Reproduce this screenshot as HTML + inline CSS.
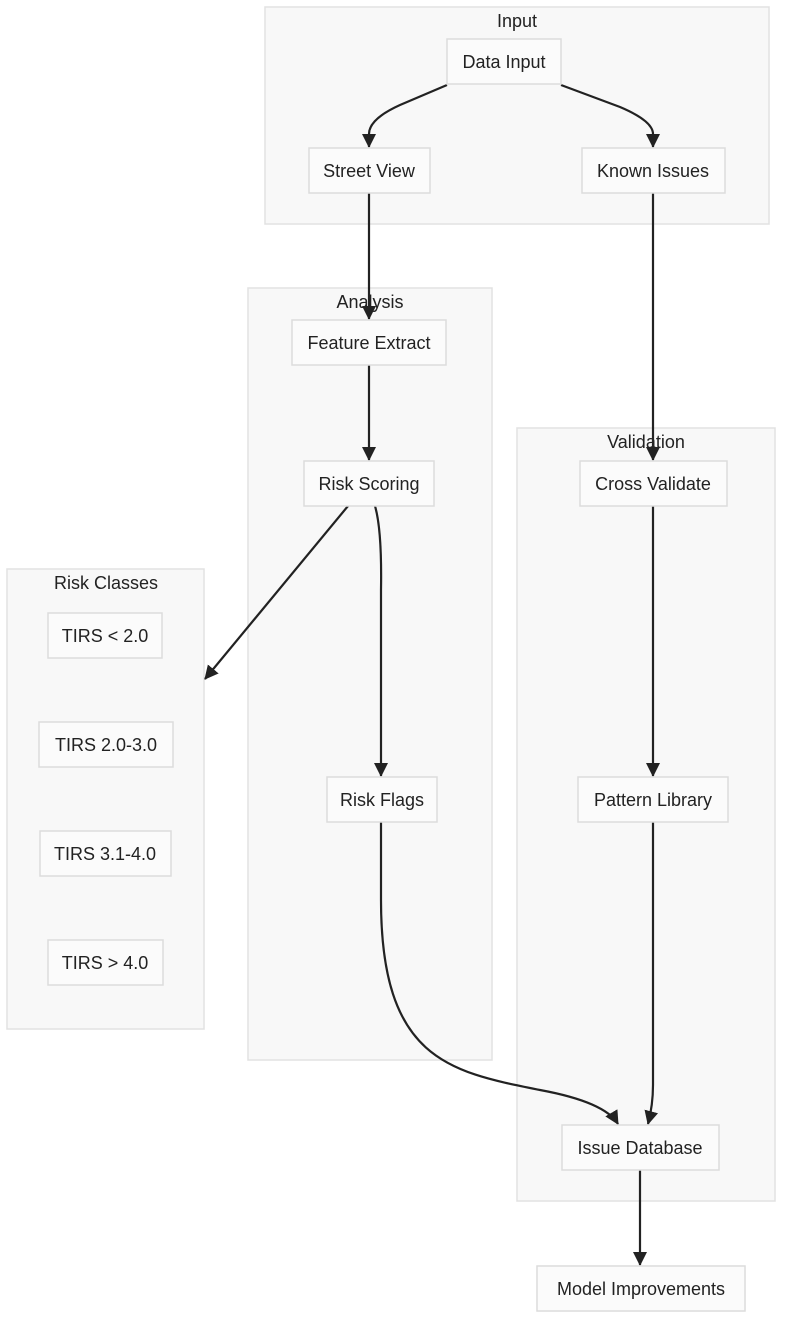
<!DOCTYPE html>
<html><head><meta charset="utf-8"><style>
html,body{margin:0;padding:0;background:#fff;}
svg text{font-family:"Liberation Sans",sans-serif;font-size:18px;fill:#222;text-anchor:middle;}
</style></head><body>
<svg width="810" height="1320" viewBox="0 0 810 1320" xmlns="http://www.w3.org/2000/svg">
<defs><marker id="a" markerWidth="14" markerHeight="14" refX="13" refY="7" orient="auto" markerUnits="userSpaceOnUse"><path d="M0,0 L14,7 L0,14 Z" fill="#222"/></marker></defs>
<g fill="#f8f8f8" stroke="#e2e2e2" stroke-width="1.5">
<rect x="265" y="7" width="504" height="217"/>
<rect x="248" y="288" width="244" height="772"/>
<rect x="517" y="428" width="258" height="773"/>
<rect x="7" y="569" width="197" height="460"/>
</g>
<text x="517" y="27">Input</text>
<text x="370" y="308">Analysis</text>
<text x="646" y="448">Validation</text>
<text x="106" y="589">Risk Classes</text>
<g fill="none" stroke="#222" stroke-width="2.2">
<path d="M447,85 L400,105 Q369,119 369,134 L369,147" marker-end="url(#a)"/>
<path d="M561,85 L620,107 Q653,121 653,134 L653,147" marker-end="url(#a)"/>
<path d="M369,193 L369,319" marker-end="url(#a)"/>
<path d="M653,193 L653,460" marker-end="url(#a)"/>
<path d="M369,365 L369,460" marker-end="url(#a)"/>
<path d="M653,506 L653,776" marker-end="url(#a)"/>
<path d="M348,506 L205,679" marker-end="url(#a)"/>
<path d="M375,506 Q382,530 381,590 L381,776" marker-end="url(#a)"/>
<path d="M381,822 L381,900 C381,1060 450,1072 540,1090 Q605,1102 618,1124" marker-end="url(#a)"/>
<path d="M653,822 L653,1085 Q653,1105 648,1124" marker-end="url(#a)"/>
<path d="M640,1170 L640,1265" marker-end="url(#a)"/>
</g>
<g fill="#fbfbfb" stroke="#dcdcdc" stroke-width="1.5">
<rect x="447" y="39" width="114" height="45"/>
<rect x="309" y="148" width="121" height="45"/>
<rect x="582" y="148" width="143" height="45"/>
<rect x="292" y="320" width="154" height="45"/>
<rect x="304" y="461" width="130" height="45"/>
<rect x="327" y="777" width="110" height="45"/>
<rect x="580" y="461" width="147" height="45"/>
<rect x="578" y="777" width="150" height="45"/>
<rect x="562" y="1125" width="157" height="45"/>
<rect x="48" y="613" width="114" height="45"/>
<rect x="39" y="722" width="134" height="45"/>
<rect x="40" y="831" width="131" height="45"/>
<rect x="48" y="940" width="115" height="45"/>
<rect x="537" y="1266" width="208" height="45"/>
</g>
<text x="504" y="68">Data Input</text>
<text x="369" y="177">Street View</text>
<text x="653" y="177">Known Issues</text>
<text x="369" y="349">Feature Extract</text>
<text x="369" y="490">Risk Scoring</text>
<text x="382" y="806">Risk Flags</text>
<text x="653" y="490">Cross Validate</text>
<text x="653" y="806">Pattern Library</text>
<text x="640" y="1154">Issue Database</text>
<text x="105" y="642">TIRS &lt; 2.0</text>
<text x="106" y="751">TIRS 2.0-3.0</text>
<text x="105" y="860">TIRS 3.1-4.0</text>
<text x="105" y="969">TIRS &gt; 4.0</text>
<text x="641" y="1295">Model Improvements</text>
</svg>
</body></html>
